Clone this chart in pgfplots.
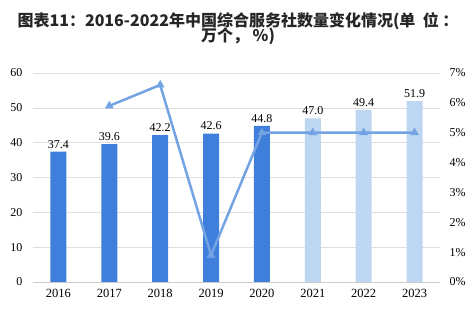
\documentclass[border=0pt]{standalone}
\usepackage{pgfplots}
\pgfplotsset{compat=1.18}
\usepackage{fontspec}
\setmainfont{Liberation Serif}
\newfontfamily\cjk{Noto Sans CJK SC}
\definecolor{darkbar}{HTML}{3F7FDB}
\definecolor{lightbar}{HTML}{BDD7F3}
\definecolor{linec}{HTML}{73A3E2}
\begin{document}
\begin{tikzpicture}[x=1pt,y=1pt]
\path[use as bounding box] (-33,-37) rectangle (442,282);
\begin{axis}[at={(0,0)},anchor=south west,scale only axis,
  width=407pt,height=209pt,
  xmin=-0.5,xmax=7.5,ymin=0,ymax=60,
  ytick={0,10,...,60},
  xtick={0,...,7},xticklabels={2016,2017,2018,2019,2020,2021,2022,2023},
  axis x line*=bottom, axis y line*=left,
  x axis line style={-,draw=gray!40,line width=0.8pt},
  y axis line style={draw=none},
  ymajorgrids, grid style={gray!25,line width=0.6pt},
  major tick length=0pt,
  /pgf/number format/assume math mode=true,
  yticklabel style={font=\fontsize{12}{13}\selectfont,xshift=-7pt},
  xticklabel style={font=\fontsize{12.5}{13}\selectfont,yshift=-4pt},
  clip=false]
\addplot[ybar,bar width=16pt,bar shift=0pt,fill=darkbar,draw=none,
  nodes near coords,
  nodes near coords style={font=\fontsize{12}{13}\selectfont,text=black,/pgf/number format/fixed,/pgf/number format/fixed zerofill,/pgf/number format/precision=1}]
  coordinates {(0,37.4)(1,39.6)(2,42.2)(3,42.6)(4,44.8)};
\addplot[ybar,bar width=16pt,bar shift=0pt,fill=lightbar,draw=none,
  nodes near coords,
  nodes near coords style={font=\fontsize{12}{13}\selectfont,text=black,/pgf/number format/fixed,/pgf/number format/fixed zerofill,/pgf/number format/precision=1}]
  coordinates {(5,47.0)(6,49.4)(7,51.9)};
\end{axis}
\begin{axis}[at={(0,0)},anchor=south west,scale only axis,
  width=407pt,height=209pt,
  xmin=-0.5,xmax=7.5,ymin=0,ymax=7,
  ytick={0,...,7},
  axis x line=none, axis y line*=right,
  y axis line style={draw=none},
  major tick length=0pt,
  /pgf/number format/assume math mode=true,
  yticklabel={\pgfmathprintnumber{\tick}\%},
  yticklabel style={font=\fontsize{12}{13}\selectfont,xshift=6pt},
  clip=false]
\addplot[linec,line width=2.5pt,mark=triangle*,mark size=4.5pt,mark options={solid,fill=linec,draw=linec,line width=0.5pt}]
  coordinates {(1,5.9)(2,6.6)(3,0.9)(4,5.0)(5,5.0)(6,5.0)(7,5.0)};
\end{axis}
\node[font=\cjk\bfseries\fontsize{16}{17}\selectfont,text=black!85] at (205,261) {图表11：2016-2022年中国综合服务社数量变化情况(单\ \ 位\ ：};
\node[font=\cjk\bfseries\fontsize{16}{17}\selectfont,text=black!85] at (205,246) {万个，\ \%)};
\end{tikzpicture}
\end{document}
